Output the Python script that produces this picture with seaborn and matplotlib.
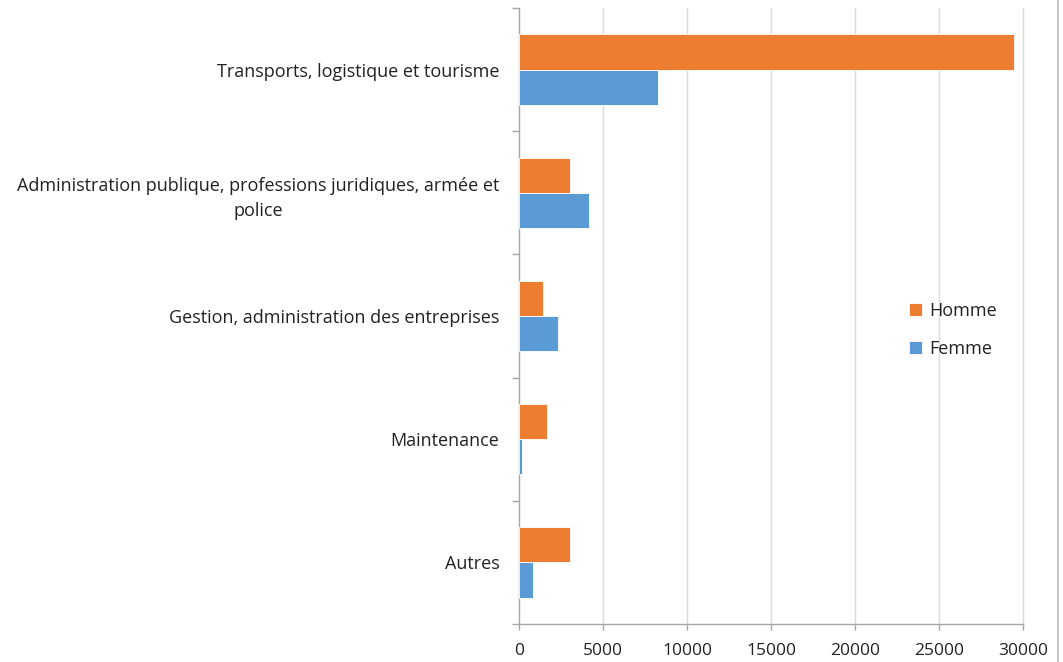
import matplotlib
matplotlib.use("Agg")
import matplotlib.pyplot as plt
from matplotlib.lines import Line2D
import seaborn as sns
import pandas as pd
import numpy as np

categories = [
    "Transports, logistique et tourisme",
    "Administration publique, professions juridiques, armée et\npolice",
    "Gestion, administration des entreprises",
    "Maintenance",
    "Autres",
]
homme = [29450, 3050, 1450, 1670, 3010]
femme = [8270, 4180, 2300, 170, 850]
series = ["Homme", "Femme"]
colors = {"Homme": "#ED7D31", "Femme": "#5B9BD5"}
xticks = [0, 5000, 10000, 15000, 20000, 25000, 30000]

df = pd.DataFrame({
    "Métier": categories * 2,
    "Sexe": ["Homme"] * len(categories) + ["Femme"] * len(categories),
    "Effectif": homme + femme,
})

sns.set_style("white")
plt.rcParams["font.family"] = ["Open Sans", "DejaVu Sans"]

fig = plt.figure(figsize=(10.63, 6.62), dpi=100)
ax = fig.add_axes([519 / 1063, 38 / 662, (1023 - 519) / 1063, (654 - 38) / 662])

sns.barplot(
    data=df, y="Métier", x="Effectif", hue="Sexe",
    order=categories, hue_order=series, palette=colors, saturation=1,
    orient="h", width=0.57, edgecolor="white", linewidth=0.6,
    errorbar=None, ax=ax, zorder=3,
)

ax.set_xlim(0, 30000)
ax.set_ylim(len(categories) - 0.5, -0.5)
ax.set_xticks(xticks)
ax.set_xticklabels([str(t) for t in xticks], fontsize=12.5, color="#222222")
ax.set_xlabel("")
ax.set_ylabel("")

# vertical gridlines
for t in xticks[1:]:
    ax.axvline(t, color="#D9D9D9", linewidth=1, zorder=0, clip_on=False)

# category separators as outward ticks on the left axis
ax.set_yticks(np.arange(-0.5, len(categories), 1.0), minor=True)
ax.tick_params(axis="y", which="minor", length=5, color="#A6A6A6", width=1, left=True)
ax.tick_params(axis="y", which="major", length=0, pad=14, labelsize=13, labelcolor="#222222")
ax.tick_params(axis="x", which="major", length=4, color="#A6A6A6", width=1, bottom=True, pad=10)
for lbl in ax.get_yticklabels():
    lbl.set_multialignment("center")
    lbl.set_linespacing(1.55)

for side in ["top", "right"]:
    ax.spines[side].set_visible(False)
for side in ["left", "bottom"]:
    ax.spines[side].set_color("#A6A6A6")
    ax.spines[side].set_linewidth(1)

handles, labels = ax.get_legend_handles_labels()
ax.legend(
    handles, labels, loc="center left",
    bbox_to_anchor=(893 / 1063, 1 - 330 / 662), bbox_transform=fig.transFigure,
    frameon=False, fontsize=13, handlelength=0.7, handleheight=0.7,
    handletextpad=0.4, labelspacing=1.1, labelcolor="#222222",
)

# chart area border on the right
fig.add_artist(Line2D([1058 / 1063, 1058 / 1063], [0, 1], transform=fig.transFigure,
                      color="#BFBFBF", linewidth=1.2))

fig.savefig("out.png", dpi=100)
